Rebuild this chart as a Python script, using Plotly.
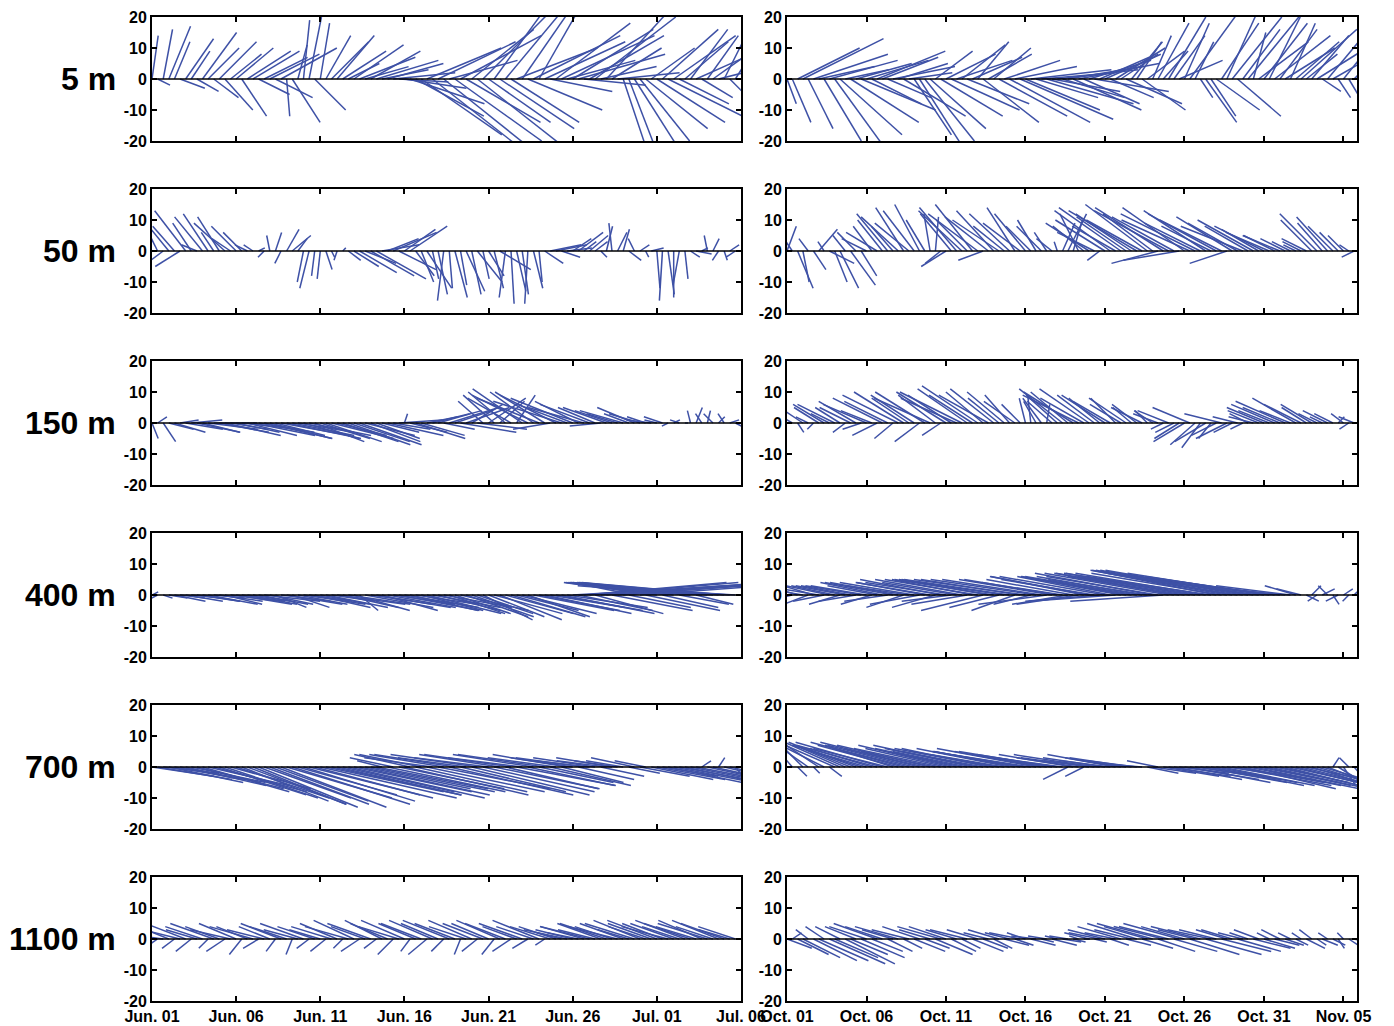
import plotly.graph_objects as go

# ---------------- labels ----------------
depth_labels = ["5 m", "50 m", "150 m", "400 m", "700 m", "1100 m"]
jun_ticktext = ["Jun. 01", "Jun. 06", "Jun. 11", "Jun. 16", "Jun. 21", "Jun. 26", "Jul. 01", "Jul. 06"]
oct_ticktext = ["Oct. 01", "Oct. 06", "Oct. 11", "Oct. 16", "Oct. 21", "Oct. 26", "Oct. 31", "Nov. 05"]
day_tickvals = [0, 5, 10, 15, 20, 25, 30, 35]
y_tickvals = [-20, -10, 0, 10, 20]
y_ticktext = ["-20", "-10", "0", "10", "20"]
samples_per_day = 3          # 8-hourly current vectors (cm/s)
jun_days = 35.0
oct_days = 35.85

# ---------------- data: eastward (u) / northward (v) velocity ----------------
# 5 m
u_5m_jun = [2,4,3, 7,5,8, 9,6,7, 11,10,8, 12,9,10,
            12,8,14, 15,10,14, 16,12,18, 1,9,3, 2,4,10,
            3,8,12, 12,14,10, 16,18,14, 16,20,15, 18,20,16,
            20,24,22, 26,24,28, 25,30,22, 28,26,24, 20,28,22,
            20,16,24, 20,22,26, 18,24,28, 16,26,20, 24,30,22,
            26,28,20, 24,26,18, 22,16,20, 8,10,14, 16,20,14,
            22,18,24, 20,16,14, 12,18,10, 10,14,8, 6,4,5]
v_5m_jun = [14,-2,16, 17,12,-3, 13,9,-4, 15,10,-6, 12,-10,8,
            10,-12,9, 9,-5,7, 8,-6,10, -12,-14,11, 19,20,-10,
            18,14,12, 14,9,5, 11,7,4, 9,6,3, 5,2,-1,
            -3,-8,-12, -18,10,-22, 12,-24,6, -20,14,-14, 16,-22,22,
            -14,22,-16, 24,-14,10, 26,-10,14, 28,12,-4, 18,14,6,
            16,8,-2, 14,20,4, 24,10,2, -24,-26,-22, -20,-16,10,
            -14,16,-12, 14,-8,12, 16,8,-6, 14,10,2, 12,-4,8]
u_5m_oct = [3,6,20, 26,8,24, 18,12,22, 16,20,14, 22,18,24,
            20,16,22, 18,14,20, 16,20,14, 12,14,16, 18,12,20,
            16,22,18, 14,20,16, 10,18,14, 12,22,18, 26,20,30,
            24,26,20, 24,28,22, 26,20,24, 22,26,18, 20,24,16,
            18,14,16, 12,18,10, 8,14,12, 6,10,8, 12,10,14,
            8,16,6, 4,10,8, 14,12,10, 16,14,12, 18,4,16,
            14,10,18, 12,16,8, 14,18,10, 12,16,6, 10,14,4, 8,3,6]
v_5m_oct = [-8,-14,10, 13,-16,8, 4,-20,6, -22,-18,3, -14,5,-10,
            6,-8,9, 7,-6,4, 5,-12,2, -18,-22,-20, -16,9,-12,
            8,-10,6, 11,-8,7, 12,-14,8, 10,-12,6, -14,4,-13,
            -10,3,-6, 2,-8,-4, 3,-6,4, -10,5,-8, 6,-4,7,
            8,-6,10, 8,-8,12, 12,-10,9, 14,18,9, 20,14,6,
            18,22,12, -6,-14,-12, -10,18,22, 20,-12,16, 22,15,12,
            18,20,14, 16,10,18, 12,16,8, 14,10,-4, 12,8,-6, 10,-5,6]
# 50 m
u_50m_jun = [-8,-6,-4, -9,-7,-8, -10,-6,-5, -9,-8,-4, -7,-10,-6,
             -8,-6,-4, -3,2,-2, -1,2,-2, 4,6,3, -2,-3,-1,
             -1,2,1, -1,1,4, 8,12,10, 14,16,12, 10,14,12,
             10,12,6, 4,8,2, 3,-2,1, 4,2,6, 3,8,2,
             5,3,10, -2,1,3, 2,-1,3, 1,6,10, 10,6,8,
             6,8,4, 6,4,2, 2,-1,3, 2,4,-2, 3,1,4,
             1,-1,2, 0,-2,1, 3,5,2, -1,2,-2, 1,3,-3]
v_50m_jun = [10,12,-3, 11,8,-5, 13,9,2, 11,12,6, 11,9,4,
             8,6,2, 2,1,-2, 5,6,-4, 7,5,4, -10,-12,-8,
             -9,-6,-2, -3,1,-3, -5,-7,-4, -8,-9,2, 4,6,-6,
             7,8,-8, -10,-12,-9, -14,-16,-12, -15,-11,-13, -14,-10,-9,
             -8,-12,-6, -15,-17,-13, -14,-17,-12, -10,-4,2, 2,-2,1,
             4,6,3, 5,3,-2, 8,9,6, 7,-3,4, 2,-2,1,
             -12,-16,-14, -15,-11,-9, -2,-1,1, 5,4,-3, -3,2,-2]
u_50m_oct = [3,-4,5, 2,-3,4, 6,-2,8, 4,6,-4, 8,-6,5,
             -8,-6,-10, -8,-10,-7, -12,-9,-11, -10,-8,-6, -2,1,-5,
             -8,-10,-12, -14,-10,-12, -16,-8,-14, -12,-15,-10, -13,-9,-12,
             -10,-8,-6, -8,-4,-5, -1,4,6, 3,-6,-10, -14,-12,-4,
             -16,-18,-14, -20,-16,-18, -22,-18,-20, -16,-15,-22, -24,-20,-18,
             -20,-22,-24, -18,-20,-16, -22,-20,-12, -18,-16,-20, -14,-18,-12,
             -16,-14,-10, -12,-8,-6, -4,-6,-8, -10,-12,-8, -10,-8,-6, -5,-3,-4]
v_50m_oct = [8,6,-12, -10,4,-6, 7,3,-4, -10,-12,5, -11,6,-8,
             4,8,6, 10,12,8, 11,14,9, 13,15,10, 12,11,-4,
             -5,12,14, 13,10,15, 12,-3,11, 13,10,8, 12,14,9,
             12,8,10, 8,6,4, 3,9,12, 10,12,8, 9,6,-3,
             10,13,8, 14,11,12, 13,10,15, 12,-4,14, 13,11,-3,
             14,10,12, 9,13,8, 12,10,-4, 11,9,8, 8,10,7,
             8,6,5, 5,4,3, 2,3,4, 10,12,9, 11,8,6, 5,2,-2]
# 150 m
u_150m_jun = [2,3,4, 8,10,6, 12,10,14, 12,16,14, 16,18,12,
              14,18,16, 20,18,22, 20,16,22, 24,20,18, 18,20,16,
              16,18,20, 16,18,20, 18,20,16, 16,14,12, 18,12,14,
              1,12,16, 14,10,12, 14,10,16, 12,18,14, 10,16,-8,
              12,-10,8, -12,-14,6, -16,-18,-14, -20,-16,-12, -18,-22,-16,
              -20,-14,-18, -16,-12,-10, -14,-12,-10, -14,-8,-12, -10,-6,-8,
              -4,-6,-2, 2,-3,1, -1,2,-2, 1,-3,2, -2,3,4]
v_150m_jun = [-5,2,-6, -2,-3,1, -2,1,-3, -3,-2,0, -3,-4,-2,
              -3,-2,-4, -4,-3,-5, -5,-4,-4, -5,-4,-3, -5,-4,-6,
              -5,-6,-5, -4,-6,-7, -6,-7,-4, -6,-5,-3, -4,-2,1,
              3,-3,-5, -4,2,3, 4,-2,5, 4,-3,5, 6,-2,7,
              8,9,7, 10,8,9, 11,9,10, 8,10,-2, 9,7,6,
              8,7,5, 6,5,-1, 5,4,3, 4,3,5, 3,2,1,
              1,2,-1, 1,1,0, 4,5,3, 4,3,2, 3,1,-2]
u_150m_oct = [-3,-5,2, -6,-4,-2, -8,-10,-6, -12,-8,-4, -10,-12,-6,
              -14,-10,-8, -16,-14,-6, -18,-16,-12, -14,-8,-16, -18,-12,-6,
              -16,-14,-18, -20,-16,-14, -18,-12,-16, -14,-10,-12, -8,-10,-6,
              -2,-1,-4, -6,1,-8, -10,-14,-12, -16,-18,-14, -16,-12,-10,
              -14,-12,-8, -10,-12,-6, -8,-10,-4, -6,-8,-4, -10,-6,-8,
              -10,-12,-8, -6,-10,-4, -8,-12,-10, -6,-8,-4, -6,-8,-10,
              -12,-10,-14, -12,-16,-10, -14,-12,-8, -10,-6,-4, -8,-6,2, -4,-3,-5]
v_150m_oct = [4,3,-3, 4,2,-2, 5,6,3, 6,5,-3, 5,7,-2,
              6,4,-4, 8,7,-5, 9,10,8, 9,-6,10, 8,9,-4,
              10,9,8, 10,11,9, 12,10,9, 11,8,10, 9,7,6,
              8,9,7, 8,6,7, 9,11,10, 10,9,8, 11,9,8,
              9,7,8, 6,8,5, 6,5,4, 4,3,-2, 4,-3,-5,
              -6,5,-7, -8,-6,-5, -4,3,-5, -3,2,-2, 3,2,4,
              5,4,6, 5,7,4, 8,6,5, 6,3,2, 4,3,2, 3,-2,2]
# 400 m
u_400m_jun = [2,-2,3, 6,10,8, 12,10,14, 12,16,10, 14,12,16,
              18,14,16, 12,16,18, 14,10,16, 18,12,16, 20,14,18,
              16,20,14, 22,18,20, 18,6,22, 20,24,18, 22,20,26,
              24,22,20, 20,24,22, 20,22,18, 18,22,20, 20,18,16,
              18,22,20, 22,24,20, 24,20,26, 26,28,24, 28,30,26,
              50,24,46, 48,22,54, 52,26,56, 50,20,-20, 54,24,-26,
              -30,18,-33, -34,16,-37, -38,12,-40, -42,-40,-45, -46,-44,-48]
v_400m_jun = [1,-1,-1, -1,-2,-1, -2,-1,-2, -2,-3,-1, -2,-3,-2,
              -3,-2,-3, -2,-3,-2, -3,-4,-2, -3,-4,-3, -3,-2,-4,
              -3,-4,-2, -3,-4,-3, -5,-5,-4, -3,-4,-5, -4,-3,-5,
              -4,-5,-3, -5,-6,-4, -5,-4,-6, -6,-5,-7, -7,-6,-8,
              -7,-6,-8, -6,-7,-5, -6,-7,-5, -5,-6,-4, -5,-6,-4,
              3,-5,4, 4,-6,4, 4,-5,4, 4,-4,4, 4,-5,4,
              4,-4,4, 4,-3,4, 4,-3,3, 4,3,4, 4,3,3]
u_400m_oct = [-6,-8,-10, -12,-8,-10, -12,-10,-14, -14,-10,-16, -16,-12,-18,
              -18,-10,-16, -20,-14,-22, -22,-12,-20, -24,-16,-22, -24,-14,-26,
              -26,-16,-24, -28,-18,-26, -30,-20,-28, -32,-16,-34, -34,-14,-32,
              -36,-12,-34, -32,-22,-30, -30,-26,-18, -28,-20,-30, -32,-30,-24,
              -34,-30,-28, -32,-34,-30, -36,-34,-32, -38,-36,-30, -40,-38,-36,
              -42,-40,-38, -44,-42,-40, -40,-42,-44, -44,-42,-46, -46,-44,-42,
              -44,-40,-36, -36,-30,-24, -10,-8,4, 3,-3,4, -3,2,-4, 3,-2,1]
v_400m_oct = [2,-2,3, 2,-3,3, 2,-2,3, 3,-3,3, 3,-2,3,
              3,-3,3, 4,-2,4, 4,-4,3, 4,-3,4, 4,-4,5,
              4,-2,4, 5,-3,5, 5,-5,5, 5,-4,5, 5,-5,5,
              5,-3,5, 5,-3,5, 5,4,-3, 5,-3,6, 6,5,-2,
              6,6,-2, 6,6,5, 6,6,5, 7,6,-2, 7,7,6,
              7,7,6, 7,7,6, 8,7,8, 8,7,8, 8,7,6,
              7,6,5, 4,3,3, 3,2,-2, 3,-2,2, 3,-3,-2, 2,-2,1]
# 700 m
u_700m_jun = [20,24,18, 24,22,26, 26,24,28, 28,26,30, 28,30,26,
              30,28,32, 30,32,28, 32,30,34, 34,38,32, 36,40,34,
              44,38,42, 40,36,44, 38,42,34, 40,36,-8, 38,-14,34,
              40,-18,36, -20,38,-22, 36,-24,40, -26,34,-22, 38,-28,36,
              -24,34,-26, 30,-28,32, -24,28,-26, 24,-28,26, -22,20,-24,
              -20,18,-22, -18,-20,14, -16,-18,-14, -12,10,-14, 16,-10,20,
              22,18,24, 26,22,28, 30,26,3, 28,32,2, 30,26,4]
v_700m_jun = [-3,-4,-2, -5,-4,-5, -6,-5,-7, -8,-6,-8, -9,-10,-7,
              -10,-11,-12, -12,-13,-10, -12,-11,-13, -10,-12,-9, -11,-10,-9,
              -10,-8,-9, -9,-8,-10, -8,-9,-7, -8,-7,2, -8,3,-7,
              -9,4,-8, 4,-8,3, -7,4,-9, 4,-8,3, -9,4,-8,
              3,-7,4, -7,4,-6, 3,-6,4, -5,4,-6, 3,-5,4,
              3,-4,3, 2,3,-3, 2,3,2, 2,-2,3, -3,2,-4,
              -4,-3,-5, -5,-4,-6, -6,-5,2, -6,-7,3, -7,-6,-5]
u_700m_oct = [-4,-6,3, -8,-10,2, -12,-14,4, -16,-18,-14, -20,-16,-22,
              -24,-20,-26, -28,-24,-22, -26,-30,-24, -28,-32,-26, -30,-24,-28,
              -26,-30,-22, -28,-24,-32, -30,-26,-28, -32,-28,-24, -30,-26,-28,
              -30,-26,-32, -28,-24,-30, -26,-22,-8, -24,-20,-6, -22,-26,-18,
              -20,-16,-22, -18,-14,-20, -16,-12,10, 14,-10,18, 20,22,16,
              24,26,20, 28,24,30, 26,30,28, 32,28,30, 30,34,26,
              28,32,24, 26,28,22, 20,24,18, 16,20,14, 10,2,8, 4,-3,6]
v_700m_oct = [5,7,-3, 8,7,-2, 8,7,-3, 7,8,6, 8,6,7,
              7,6,7, 8,6,7, 7,8,6, 7,8,6, 7,5,6,
              6,7,5, 6,5,7, 6,5,6, 6,5,4, 6,5,5,
              5,4,6, 5,4,5, 4,3,-4, 4,3,-3, 3,4,2,
              3,2,4, 3,2,3, 2,1,-2, -2,2,-3, -3,-4,-2,
              -4,-5,-3, -5,-4,-6, -5,-6,-4, -6,-5,-7, -6,-7,-5,
              -6,-7,-5, -6,-7,-5, -5,-6,-4, -5,-6,-4, -4,3,-5, -6,3,-7]
# 1100 m
u_1100m_jun = [-6,-3,-8, -10,-4,-12, -13,-5,-10, -12,-3,-14, -11,-6,-13,
               -12,-4,-10, -14,-5,-12, -10,-3,-13, -12,-2,-11, -14,-4,-12,
               -10,-5,-13, -12,-3,-14, -13,-6,-11, -14,-4,-12, -12,-5,-13,
               -14,-3,-12, -13,-6,-14, -12,-4,-15, -13,-2,-12, -14,-5,-13,
               -12,-4,-14, -13,-6,-11, -14,-5,-12, -15,-3,-13, -12,-8,-14,
               -12,-10,-14, -16,-12,-14, -15,-12,-16, -14,-10,-16, -15,-12,-14,
               -16,-13,-15, -14,-12,-16, -15,-13,-14, -16,-12,-15, -14,-10,-12]
v_1100m_jun = [2,-2,1, 4,-3,3, 5,-4,3, 4,-3,5, 4,-4,3,
               5,-5,4, 4,-3,3, 4,-4,5, 4,-5,3, 5,-3,4,
               3,-4,4, 5,-3,4, 6,-4,4, 5,-3,6, 5,-5,4,
               6,-4,5, 5,-5,6, 5,-4,6, 5,-5,4, 6,-4,5,
               5,-5,6, 5,-4,4, 5,-3,4, 6,-2,4, 4,2,3,
               3,2,4, 4,3,5, 5,4,4, 5,3,5, 6,4,5,
               6,5,4, 5,4,6, 5,4,6, 5,4,6, 5,3,4]
u_1100m_oct = [8,3,10, 12,-4,14, 16,-6,18, 14,-8,16, 12,-10,14,
               -12,10,-14, -12,8,-10, -14,6,-12, 10,-12,8, -10,12,-14,
               -12,8,-10, 6,-12,10, -10,8,-8, 6,-10,8, -8,6,-10,
               -6,8,-8, 4,-6,8, -4,6,-6, 4,-3,2, -8,4,-10,
               -12,6,-10, -14,8,-12, -16,10,-14, -18,12,-16, -16,14,-18,
               -14,16,-12, -16,18,-14, -12,16,-10, -10,14,-8, -6,12,-8,
               10,-4,8, -6,6,-4, 4,-3,6, -4,3,5, -3,4,2, -2,3,4]
v_1100m_oct = [-3,2,-5, -6,3,-7, -7,4,-8, -6,4,-8, -5,4,-6,
               4,-4,5, 4,-4,3, 4,-3,3, -4,4,-3, 3,-5,4,
               4,-4,3, -3,3,-4, 3,-3,2, -3,3,-2, 2,-2,2,
               2,-2,1, -1,1,-2, 1,-1,1, -1,1,0, 2,-1,2,
               3,-2,2, 4,-2,3, 5,-3,4, 5,-4,4, 4,-4,5,
               4,-5,3, 4,-5,3, 3,-4,3, 3,-4,2, 2,-3,3,
               -3,2,-2, 3,-2,2, -2,2,-3, 3,-2,-2, 2,-2,-3, 2,-2,-1]

panels = [
    (u_5m_jun, v_5m_jun, u_5m_oct, v_5m_oct),
    (u_50m_jun, v_50m_jun, u_50m_oct, v_50m_oct),
    (u_150m_jun, v_150m_jun, u_150m_oct, v_150m_oct),
    (u_400m_jun, v_400m_jun, u_400m_oct, v_400m_oct),
    (u_700m_jun, v_700m_jun, u_700m_oct, v_700m_oct),
    (u_1100m_jun, v_1100m_jun, u_1100m_oct, v_1100m_oct),
]

# ---------------- layout geometry (screen pixels) ----------------
PAGE_MARGIN = 8                     # default <body> margin of the html page
W, H = 1394 - PAGE_MARGIN, 1026 - PAGE_MARGIN
col_px = [(152, 741), (787, 1357)]
row_top_px = [17, 189, 361, 533, 705, 877]
panel_h = 124
col_days = [jun_days, oct_days]
col_ticktext = [jun_ticktext, oct_ticktext]
stick_color = "#3E51A6"
tick_font = dict(family="Liberation Sans, Arial, sans-serif", size=16, color="black", weight="bold")


def fx(px):
    return (px - PAGE_MARGIN) / W


def fy(py):
    return 1 - (py - PAGE_MARGIN) / H


def stick_xy(u, v, k):
    xs, ys = [], []
    for i, (uu, vv) in enumerate(zip(u, v)):
        t = i / samples_per_day
        xs += [t, t + uu * k, None]
        ys += [0, vv, None]
    return xs, ys


fig = go.Figure()
layout = dict(width=W, height=H, margin=dict(l=0, r=0, t=0, b=0, autoexpand=False),
              paper_bgcolor="white", plot_bgcolor="white", showlegend=False)
shapes, annotations = [], []

idx = 0
for r in range(6):
    for c in range(2):
        idx += 1
        u = panels[r][2 * c]
        v = panels[r][2 * c + 1]
        x0p, x1p = col_px[c]
        days = col_days[c]
        # days per velocity unit so that sticks keep true direction on screen
        k = (panel_h / 40.0) / ((x1p - x0p) / days)
        xs, ys = stick_xy(u, v, k)
        xa = "x" if idx == 1 else f"x{idx}"
        ya = "y" if idx == 1 else f"y{idx}"
        fig.add_trace(go.Scatter(x=xs, y=ys, xaxis=xa, yaxis=ya, mode="lines",
                                 line=dict(color=stick_color, width=1.5), hoverinfo="skip"))
        top = row_top_px[r]
        bot = top + panel_h
        xkey = "xaxis" if idx == 1 else f"xaxis{idx}"
        ykey = "yaxis" if idx == 1 else f"yaxis{idx}"
        layout[xkey] = dict(domain=[fx(x0p), fx(x1p)], anchor=ya, range=[0, days],
                            tickvals=day_tickvals, ticktext=col_ticktext[c],
                            showticklabels=(r == 5), ticks="inside", ticklen=5, tickwidth=1.5,
                            tickcolor="black", showline=True, linecolor="black", linewidth=1.8,
                            mirror="allticks", showgrid=False, zeroline=False, automargin=False,
                            tickfont=tick_font, ticklabeloverflow="allow", fixedrange=True)
        layout[ykey] = dict(domain=[fy(bot), fy(top)], anchor=xa, range=[-20, 20],
                            tickvals=y_tickvals, ticktext=y_ticktext, ticks="inside",
                            ticklen=5, tickwidth=1.5, tickcolor="black", showline=True,
                            linecolor="black", linewidth=1.8, mirror="allticks",
                            showgrid=False, zeroline=False, automargin=False, tickfont=tick_font,
                            ticklabeloverflow="allow", fixedrange=True)
        shapes.append(dict(type="line", xref=f"{xa} domain", yref=ya, x0=0, x1=1, y0=0, y1=0,
                           line=dict(color="black", width=1.5), layer="above"))
    annotations.append(dict(text=depth_labels[r], xref="paper", yref="paper",
                            x=fx(118), y=fy(row_top_px[r] + panel_h / 2),
                            xanchor="right", yanchor="middle", showarrow=False,
                            font=dict(family="Liberation Sans, Arial, sans-serif", size=32,
                                      color="black", weight="bold")))

layout["shapes"] = shapes
layout["annotations"] = annotations
fig.update_layout(**layout)
fig.write_html("out.html")
